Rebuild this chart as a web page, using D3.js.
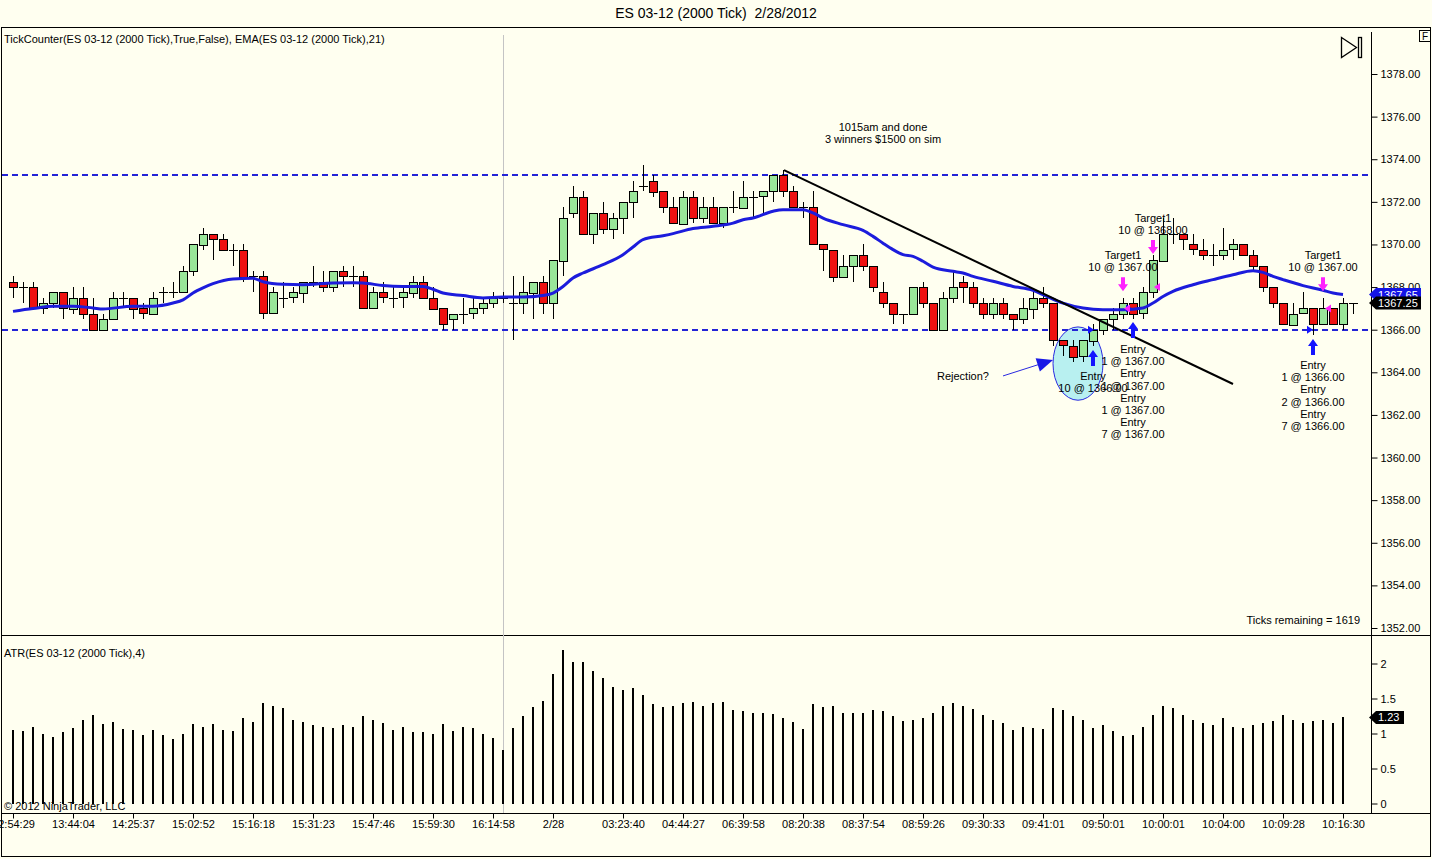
<!DOCTYPE html>
<html lang="en">
<head>
<meta charset="UTF-8">
<title>ES 03-12 (2000 Tick) 2/28/2012</title>
<style>
  body { margin: 0; background: #fffff0; }
  svg { display: block; font-family: Arial, "Liberation Sans", sans-serif; }
  .up { fill: #99e699; stroke: #000; }
  .down { fill: #ee1111; stroke: #000; }
  .lbl { font-size: 11px; fill: #000; }
</style>
</head>
<body>
<svg width="1432" height="859"></svg>
<script src="https://cdn.jsdelivr.net/npm/d3@7/dist/d3.min.js"></script>
<script>
// ---- data (one value per 2000-tick bar) ----
var opens = [
  1368.25,1368.0,1368.0,1367.0,1367.25,1367.75,1367.0,1367.5,1366.75,1366.0,
  1366.5,1367.5,1367.5,1367.0,1366.75,1367.75,1367.75,1367.75,1368.75,1370.0,
  1370.5,1370.25,1369.75,1369.75,1368.5,1368.5,1366.75,1367.5,1367.5,1367.75,
  1368.25,1368.25,1368.0,1368.75,1368.5,1368.5,1367.0,1367.75,1367.5,1367.5,
  1367.75,1368.25,1367.5,1367.0,1366.5,1366.75,1366.75,1367.0,1367.25,1367.5,
  1367.25,1367.25,1367.75,1368.25,1367.25,1369.25,1371.5,1372.25,1370.5,1371.5,
  1370.75,1371.25,1372.0,1372.75,1373.0,1372.5,1371.75,1371.0,1372.25,1371.25,
  1371.75,1371.0,1371.75,1371.75,1372.25,1372.25,1372.5,1373.25,1372.5,1371.75,
  1371.75,1370.0,1369.75,1368.5,1369.0,1369.5,1369.0,1367.75,1367.25,1366.75,
  1366.75,1368.0,1367.25,1366.0,1367.5,1368.25,1368.0,1367.25,1366.75,1367.25,
  1366.75,1366.5,1367.0,1367.5,1367.25,1365.5,1365.25,1364.75,1365.5,1366.0,
  1366.5,1366.75,1367.25,1366.75,1367.75,1369.25,1370.5,1370.5,1370.0,1369.75,
  1369.5,1369.5,1369.75,1370.0,1369.5,1369.0,1368.0,1367.25,1366.25,1366.75,
  1367.0,1366.25,1367.0,1366.25,1367.25
]
var highs = [
  1368.5,1368.25,1368.25,1367.5,1367.75,1367.75,1368.0,1368.0,1367.5,1366.75,
  1367.75,1367.75,1367.5,1367.25,1367.75,1368.0,1368.25,1369.0,1370.0,1370.75,
  1370.5,1370.5,1370.0,1370.0,1368.75,1368.75,1368.0,1368.25,1368.0,1368.25,
  1369.0,1368.75,1368.75,1369.0,1369.0,1368.75,1368.0,1368.25,1368.0,1368.0,
  1368.5,1368.5,1368.0,1367.0,1366.75,1367.5,1367.5,1367.5,1367.75,1367.75,
  1368.5,1368.5,1368.25,1368.5,1369.25,1371.75,1372.75,1372.5,1371.5,1372.0,
  1371.5,1372.0,1373.0,1373.75,1373.25,1372.5,1372.25,1372.5,1372.5,1372.25,
  1372.25,1371.75,1372.5,1373.0,1372.5,1372.5,1373.25,1373.5,1372.75,1372.0,
  1372.5,1370.0,1369.75,1369.5,1369.5,1370.0,1369.0,1368.25,1367.25,1366.75,
  1368.0,1368.25,1367.25,1367.75,1368.75,1368.5,1368.25,1367.5,1367.5,1367.5,
  1366.75,1367.5,1367.75,1368.0,1367.25,1365.5,1365.5,1365.5,1366.25,1366.5,
  1367.0,1367.5,1367.5,1368.0,1369.5,1371.25,1371.25,1370.5,1370.5,1370.25,
  1370.0,1370.75,1370.25,1370.0,1369.75,1369.0,1368.0,1367.25,1367.25,1367.75,
  1367.0,1367.5,1367.0,1367.5,1367.25
]
var lows = [
  1367.5,1367.25,1367.0,1366.75,1367.0,1366.5,1366.75,1366.5,1366.0,1366.0,
  1366.5,1367.0,1366.5,1366.5,1366.75,1367.25,1367.5,1367.75,1368.5,1369.75,
  1369.25,1369.75,1369.0,1368.25,1367.75,1366.5,1366.75,1367.0,1367.25,1367.25,
  1368.0,1367.75,1367.75,1368.0,1368.0,1367.0,1367.0,1367.25,1367.0,1367.0,
  1367.5,1367.5,1367.0,1366.0,1366.0,1366.25,1366.5,1366.75,1367.0,1367.25,
  1365.5,1366.75,1366.5,1366.75,1366.5,1368.5,1371.25,1370.5,1370.0,1370.5,
  1370.25,1370.5,1371.25,1372.5,1372.25,1371.5,1371.0,1371.0,1371.0,1371.0,
  1371.0,1370.75,1371.5,1371.75,1371.25,1371.5,1372.0,1372.25,1371.75,1371.25,
  1370.0,1368.75,1368.25,1368.5,1368.25,1368.75,1367.75,1367.0,1366.25,1366.25,
  1366.75,1367.0,1366.0,1366.0,1367.25,1367.25,1367.0,1366.5,1366.5,1366.5,
  1366.0,1366.25,1366.5,1367.0,1365.25,1364.75,1364.5,1364.5,1365.25,1365.75,
  1366.0,1366.5,1366.5,1366.5,1367.5,1369.25,1370.0,1369.75,1369.5,1369.25,
  1369.0,1369.25,1369.25,1369.5,1368.75,1367.75,1367.0,1366.25,1366.25,1366.75,
  1365.75,1366.25,1366.25,1366.0,1366.75
]
var closes = [
  1368.0,1368.0,1367.0,1367.25,1367.75,1367.0,1367.5,1366.75,1366.0,1366.5,
  1367.5,1367.5,1367.0,1366.75,1367.5,1367.75,1367.75,1368.75,1370.0,1370.5,
  1370.25,1369.75,1369.75,1368.5,1368.5,1366.75,1367.75,1367.5,1367.75,1368.25,
  1368.25,1368.0,1368.75,1368.5,1368.5,1367.0,1367.75,1367.5,1367.5,1367.75,
  1368.25,1367.5,1367.0,1366.25,1366.75,1366.75,1367.0,1367.25,1367.5,1367.5,
  1367.25,1367.75,1368.25,1367.25,1369.25,1371.25,1372.25,1370.5,1371.5,1370.75,
  1371.25,1372.0,1372.5,1372.75,1372.5,1371.75,1371.0,1372.25,1371.25,1371.75,
  1371.0,1371.75,1371.75,1372.25,1372.25,1372.5,1373.25,1372.5,1371.75,1371.75,
  1370.0,1369.75,1368.5,1369.0,1369.5,1369.0,1368.0,1367.25,1366.75,1366.75,
  1368.0,1367.25,1366.0,1367.5,1368.0,1368.0,1367.25,1366.75,1367.25,1366.75,
  1366.5,1367.0,1367.5,1367.25,1365.5,1365.25,1364.75,1365.5,1366.0,1366.5,
  1366.75,1367.25,1366.75,1367.75,1369.25,1370.5,1370.5,1370.25,1369.75,1369.5,
  1369.5,1369.75,1370.0,1369.5,1369.0,1368.0,1367.25,1366.25,1366.75,1367.0,
  1366.25,1367.0,1366.25,1367.25,1367.25
]

// EMA(21): [bar number, price]
var emaPoints = [
  [1,1366.86],[3,1366.99],[5,1367.1],[7,1367.1],[9,1367.02],[10,1366.97],[13,1367.1],[15,1367.1],
  [17,1367.25],[18,1367.4],[19,1367.72],[20,1367.96],[21,1368.16],[23,1368.38],[25,1368.41],[26,1368.25],
  [28,1368.13],[30,1368.11],[33,1368.19],[35,1368.2],[36,1368.19],[38,1368.07],[40,1368.03],[42,1368.03],
  [43,1367.9],[44,1367.72],[46,1367.6],[48,1367.49],[50,1367.53],[52,1367.53],[54,1367.6],[55,1367.72],
  [56,1368.03],[57,1368.43],[58,1368.66],[60,1369.05],[62,1369.52],[63,1369.88],[64,1370.23],[66,1370.41],
  [67,1370.51],[69,1370.75],[71,1370.85],[73,1371.0],[74,1371.16],[75,1371.24],[77,1371.56],[78,1371.63],
  [80,1371.63],[81,1371.48],[82,1371.24],[84,1370.93],[86,1370.66],[87,1370.38],[88,1370.06],[89,1369.76],
  [90,1369.52],[91,1369.44],[92,1369.21],[93,1368.94],[95,1368.74],[96,1368.66],[97,1368.5],[99,1368.27],
  [101,1368.03],[103,1367.85],[104,1367.65],[106,1367.25],[108,1367.02],[110,1366.94],[112,1366.94],[114,1367.02],
  [115,1367.25],[116,1367.56],[117,1367.8],[119,1368.11],[121,1368.35],[123,1368.58],[125,1368.77],[126,1368.69],
  [127,1368.5],[128,1368.35],[130,1368.07],[132,1367.85],[133,1367.72],[134,1367.65]
]

// ATR(4) bars, one per bar (last bar has none)
var atr = [
  1.05,1.04,1.09,1.0,0.95,1.02,1.08,1.19,1.26,1.13,
  1.16,1.06,1.05,0.98,1.05,0.98,0.92,1.0,1.13,1.10,
  1.13,1.05,1.03,1.22,1.16,1.43,1.39,1.36,1.2,1.16,
  1.12,1.09,1.08,1.12,1.09,1.25,1.19,1.15,1.05,1.10,
  1.02,1.02,1.0,1.13,1.03,1.09,1.08,0.99,0.93,0.76,
  1.08,1.25,1.38,1.46,1.85,2.2,2.02,2.02,1.89,1.79,
  1.66,1.62,1.65,1.55,1.42,1.38,1.40,1.43,1.45,1.40,
  1.43,1.45,1.33,1.32,1.30,1.29,1.28,1.22,1.16,1.06,
  1.42,1.38,1.40,1.30,1.29,1.29,1.33,1.32,1.25,1.18,
  1.20,1.22,1.29,1.40,1.43,1.39,1.35,1.26,1.20,1.15,
  1.05,1.10,1.08,1.06,1.36,1.33,1.25,1.19,1.08,1.12,
  1.03,0.96,0.98,1.10,1.26,1.39,1.36,1.26,1.20,1.15,
  1.12,1.22,1.10,1.08,1.12,1.15,1.18,1.26,1.19,1.15,
  1.18,1.19,1.15,1.23
]

var timeBars = [1,7,13,19,25,31,37,43,49,55,62,68,74,80,86,92,98,104,110,116,122,128,134]
var timeLabels = ['12:54:29','13:44:04','14:25:37','15:02:52','15:16:18','15:31:23','15:47:46','15:59:30',
  '16:14:58','2/28','03:23:40','04:44:27','06:39:58','08:20:38','08:37:54','08:59:26','09:30:33',
  '09:41:01','09:50:01','10:00:01','10:04:00','10:09:28','10:16:30']
var priceTicks = [1352,1354,1356,1358,1360,1362,1364,1366,1368,1370,1372,1374,1376,1378]
var atrTicks = [0,0.5,1,1.5,2]

var levels = [1373.25, 1366.0]
var sessionBar = 50
var trendLine = [[78.1,1373.49],[123,1363.45]]
var lastEma = 1367.65, lastClose = 1367.25, lastAtr = 1.23

// drawn annotations: [bar, price, lines]
var notes = [
  [88, 1375.51, ['1015am and done','3 winners $1500 on sim']],
  [96, 1363.83, ['Rejection?']],
  [112, 1369.5, ['Target1','10 @ 1367.00']],
  [115, 1371.24, ['Target1','10 @ 1368.00']],
  [132, 1369.5, ['Target1','10 @ 1367.00']],
  [109, 1363.83, ['Entry','10 @ 1366.00']],
  [113, 1365.09, ['Entry','1 @ 1367.00','Entry','1 @ 1367.00','Entry','1 @ 1367.00','Entry','7 @ 1367.00']],
  [131, 1364.34, ['Entry','1 @ 1366.00','Entry','2 @ 1366.00','Entry','7 @ 1366.00']]
]
var entryArrows = [[109,1365.05],[113,1366.36],[131,1365.56]]
var targetArrows = [[112,1367.81],[115,1369.55],[132,1367.81]]
var buyMarks = [[109.1,1366.0],[112.9,1367.0],[131.0,1366.0]]
var sellMarks = [[112.1,1367.0],[115.1,1368.0],[132.2,1367.0]]
var circle = {bar: 107.5, price: 1364.41, dBar: 2.5, dPrice: 1.72}
var rejectArrow = [[100,1363.83],[105,1364.58]]

// ---- scales ----
var svg = d3.select('svg')
var W = 1432, H = 859
var axisX = 1371

var x = d3.scaleLinear().domain([1, 135]).range([13, 1353])
var y = d3.scaleLinear().domain([1352, 1378]).range([628, 74])
var ya = d3.scaleLinear().domain([0, 2]).range([803.5, 663.5])

svg.append('rect').attr('width', W).attr('height', H).attr('fill', '#fffff0')

// title + frame
svg.append('text')
  .attr('x', W / 2).attr('y', 18)
  .attr('text-anchor', 'middle')
  .attr('font-size', '14px')
  .style('white-space', 'pre')
  .text('ES 03-12 (2000 Tick)  2/28/2012')

svg.append('rect')
  .attr('x', 1.5).attr('y', 27.5).attr('width', W - 3).attr('height', 829)
  .attr('fill', 'none').attr('stroke', '#000')
svg.append('line').attr('x1', 1).attr('x2', W - 1).attr('y1', 635.5).attr('y2', 635.5).attr('stroke', '#000')
svg.append('line').attr('x1', 1).attr('x2', W - 1).attr('y1', 813.5).attr('y2', 813.5).attr('stroke', '#000')
svg.append('line').attr('x1', axisX + 0.5).attr('x2', axisX + 0.5).attr('y1', 32).attr('y2', 813).attr('stroke', '#000')

// session break
svg.append('line')
  .attr('x1', x(sessionBar) + 0.5).attr('x2', x(sessionBar) + 0.5)
  .attr('y1', 35).attr('y2', 813)
  .attr('stroke', '#c4c4c4')

// panel captions
svg.append('text').attr('class', 'lbl').attr('x', 4).attr('y', 43)
  .text('TickCounter(ES 03-12 (2000 Tick),True,False), EMA(ES 03-12 (2000 Tick),21)')
svg.append('text').attr('class', 'lbl').attr('x', 4).attr('y', 657)
  .text('ATR(ES 03-12 (2000 Tick),4)')
svg.append('text').attr('class', 'lbl').attr('x', 1360).attr('y', 624)
  .attr('text-anchor', 'end').text('Ticks remaining = 1619')

// F box and "go to end" icon
svg.append('rect').attr('x', 1419.5).attr('y', 30.5).attr('width', 11).attr('height', 11)
  .attr('fill', '#fffff0').attr('stroke', '#000')
svg.append('text').attr('x', 1425).attr('y', 40).attr('text-anchor', 'middle')
  .attr('font-size', '10px').text('F')
svg.append('path').attr('d', 'M1341.5,37.5 L1356.5,47.5 L1341.5,57.5 Z')
  .attr('fill', 'none').attr('stroke', '#000').attr('stroke-width', 1.3)
svg.append('rect').attr('x', 1358.5).attr('y', 37.5).attr('width', 3).attr('height', 20)
  .attr('fill', 'none').attr('stroke', '#000').attr('stroke-width', 1.3)

// ---- axes ----
var gy = svg.append('g')
  .attr('transform', 'translate(' + (axisX + 0.5) + ',0)')
  .call(d3.axisRight(y).tickValues(priceTicks).tickSize(6).tickFormat(d3.format('.2f')))
var ga = svg.append('g')
  .attr('transform', 'translate(' + (axisX + 0.5) + ',0)')
  .call(d3.axisRight(ya).tickValues(atrTicks).tickSize(6).tickFormat(function(d) { return String(d) }))
var gx = svg.append('g')
  .attr('transform', 'translate(0,813.5)')
  .call(d3.axisBottom(x).tickValues(timeBars).tickSize(5).tickFormat(function(d, i) { return timeLabels[i] }))
;[gy, ga, gx].forEach(function(g) {
  g.select('.domain').remove()
  g.selectAll('text').attr('font-size', '11px').attr('font-family', 'Arial, "Liberation Sans", sans-serif').attr('fill', '#000')
})
gx.selectAll('text').attr('dy', '0.55em')

// ---- price panel ----
var plot = svg.append('g')

// highlight ellipse (under candles)
plot.append('ellipse')
  .attr('cx', x(circle.bar)).attr('cy', y(circle.price))
  .attr('rx', x(circle.bar + circle.dBar) - x(circle.bar))
  .attr('ry', y(circle.price - circle.dPrice) - y(circle.price))
  .attr('fill', '#b8f0f0').attr('stroke', '#2a2ae0').attr('stroke-width', 1)

// dashed levels
plot.selectAll('.level')
  .data(levels)
  .enter()
  .append('line')
  .attr('class', 'level')
  .attr('x1', 2).attr('x2', axisX)
  .attr('y1', function(d) { return Math.round(y(d)) })
  .attr('y2', function(d) { return Math.round(y(d)) })
  .attr('stroke', '#2323d6').attr('stroke-width', 2).attr('stroke-dasharray', '6,4')

// candles
var bars = d3.range(opens.length).map(function(i) {
  return { n: i + 1, o: opens[i], h: highs[i], l: lows[i], c: closes[i] }
})
var cg = plot.append('g').attr('shape-rendering', 'crispEdges')
cg.selectAll('.wick')
  .data(bars)
  .enter()
  .append('line')
  .attr('class', 'wick')
  .attr('x1', function(d) { return Math.round(x(d.n)) + 0.5 })
  .attr('x2', function(d) { return Math.round(x(d.n)) + 0.5 })
  .attr('y1', function(d) { return y(d.h) })
  .attr('y2', function(d) { return y(d.l) })
  .attr('stroke', '#000')
cg.selectAll('.body')
  .data(bars.filter(function(d) { return d.o !== d.c }))
  .enter()
  .append('rect')
  .attr('class', function(d) { return d.c > d.o ? 'up' : 'down' })
  .attr('x', function(d) { return Math.round(x(d.n)) - 3.5 })
  .attr('width', 8)
  .attr('y', function(d) { return Math.round(y(Math.max(d.o, d.c))) + 0.5 })
  .attr('height', function(d) { return Math.round(Math.abs(y(d.o) - y(d.c))) })
cg.selectAll('.doji')
  .data(bars.filter(function(d) { return d.o === d.c }))
  .enter()
  .append('line')
  .attr('class', 'doji')
  .attr('x1', function(d) { return Math.round(x(d.n)) - 4 })
  .attr('x2', function(d) { return Math.round(x(d.n)) + 5 })
  .attr('y1', function(d) { return Math.round(y(d.c)) + 0.5 })
  .attr('y2', function(d) { return Math.round(y(d.c)) + 0.5 })
  .attr('stroke', '#000')

// EMA
plot.append('path')
  .datum(emaPoints)
  .attr('fill', 'none')
  .attr('stroke', '#1c1cdc')
  .attr('stroke-width', 3)
  .attr('d', d3.line()
    .x(function(d) { return x(d[0]) })
    .y(function(d) { return y(d[1]) })
    .curve(d3.curveMonotoneX))

// trend line
plot.append('line')
  .attr('x1', x(trendLine[0][0])).attr('y1', y(trendLine[0][1]))
  .attr('x2', x(trendLine[1][0])).attr('y2', y(trendLine[1][1]))
  .attr('stroke', '#000').attr('stroke-width', 2)

// rejection arrow
var ra0 = [x(rejectArrow[0][0]), y(rejectArrow[0][1])]
var ra1 = [x(rejectArrow[1][0]), y(rejectArrow[1][1])]
var ang = Math.atan2(ra1[1] - ra0[1], ra1[0] - ra0[0]) * 180 / Math.PI
plot.append('line')
  .attr('x1', ra0[0]).attr('y1', ra0[1]).attr('x2', ra1[0] - 12 * Math.cos(ang * Math.PI / 180)).attr('y2', ra1[1] - 12 * Math.sin(ang * Math.PI / 180))
  .attr('stroke', '#2a2ae0').attr('stroke-width', 1)
plot.append('path')
  .attr('d', 'M0,0 L-16,-7 L-16,7 Z')
  .attr('transform', 'translate(' + ra1[0] + ',' + ra1[1] + ') rotate(' + ang + ')')
  .attr('fill', '#1a1ae6')

// entry / target arrows
plot.selectAll('.entryArrow')
  .data(entryArrows)
  .enter()
  .append('path')
  .attr('d', 'M0,0 L-5,7 L-2,7 L-2,16 L2,16 L2,7 L5,7 Z')
  .attr('transform', function(d) { return 'translate(' + x(d[0]) + ',' + y(d[1]) + ')' })
  .attr('fill', '#1414ff')
plot.selectAll('.targetArrow')
  .data(targetArrows)
  .enter()
  .append('path')
  .attr('d', 'M0,0 L-5,-7 L-2,-7 L-2,-14 L2,-14 L2,-7 L5,-7 Z')
  .attr('transform', function(d) { return 'translate(' + x(d[0]) + ',' + y(d[1]) + ')' })
  .attr('fill', '#ff22ff')
plot.selectAll('.buyMark')
  .data(buyMarks)
  .enter()
  .append('path')
  .attr('d', 'M0,0 L-6,-4 L-6,4 Z')
  .attr('transform', function(d) { return 'translate(' + x(d[0]) + ',' + y(d[1]) + ')' })
  .attr('fill', '#1414ff')
plot.selectAll('.sellMark')
  .data(sellMarks)
  .enter()
  .append('path')
  .attr('d', 'M0,0 L6,-4 L6,4 Z')
  .attr('transform', function(d) { return 'translate(' + x(d[0]) + ',' + y(d[1]) + ')' })
  .attr('fill', '#ff22ff')

// text notes
notes.forEach(function(nt) {
  var t = plot.append('text')
    .attr('class', 'lbl')
    .attr('text-anchor', 'middle')
    .attr('x', x(nt[0]))
    .attr('y', y(nt[1]) + 4)
  if (nt[0] === 88) t.attr('font-size', '10.5px')
  nt[2].forEach(function(s, k) {
    t.append('tspan').attr('x', x(nt[0])).attr('dy', k === 0 ? 0 : 12.2).text(s)
  })
})

// ---- ATR panel ----
svg.append('g')
  .attr('shape-rendering', 'crispEdges')
  .selectAll('line')
  .data(atr)
  .enter()
  .append('line')
  .attr('x1', function(d, i) { return Math.round(x(i + 1)) })
  .attr('x2', function(d, i) { return Math.round(x(i + 1)) })
  .attr('y1', ya(0))
  .attr('y2', function(d) { return ya(d) })
  .attr('stroke', '#000')
  .attr('stroke-width', 2)

svg.append('text').attr('class', 'lbl').attr('x', 4).attr('y', 810)
  .text('\u00a9 2012 NinjaTrader, LLC')

// ---- last value flags on the axis ----
function flag(v, scale, fill, txt, w) {
  var g = svg.append('g').attr('transform', 'translate(' + (axisX + 1) + ',' + scale(v) + ')')
  g.append('path').attr('d', 'M-3,0 L4,-6.5 L' + w + ',-6.5 L' + w + ',6.5 L4,6.5 Z').attr('fill', fill)
  g.append('text').attr('x', 6).attr('y', 4).attr('fill', '#fff').attr('font-size', '11px').text(txt)
}
flag(lastEma, y, '#1414e6', d3.format('.2f')(lastEma), 49)
flag(lastClose, y, '#000', d3.format('.2f')(lastClose), 49)
flag(lastAtr, ya, '#000', String(lastAtr), 32)
</script>
</body>
</html>
